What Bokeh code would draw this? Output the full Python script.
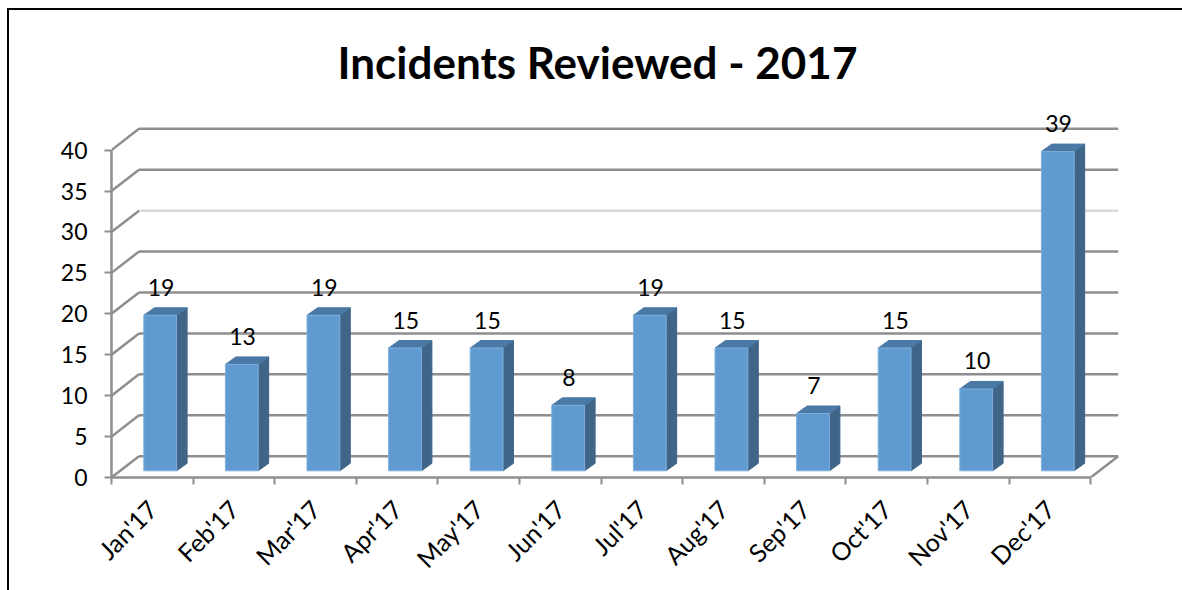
from bokeh.plotting import figure
from bokeh.embed import file_html
from bokeh.resources import INLINE
from bokeh.models import Range1d, FixedTicker, Title
from bokeh.core.properties import value

months = ["Jan'17", "Feb'17", "Mar'17", "Apr'17", "May'17", "Jun'17", "Jul'17", "Aug'17", "Sep'17", "Oct'17", "Nov'17", "Dec'17"]
incidents = [19, 13, 19, 15, 15, 8, 19, 15, 7, 15, 10, 39]
y_ticks = [0, 5, 10, 15, 20, 25, 30, 35, 40]
title_text = "Incidents Reviewed - 2017"

PX_X = 81.6     # pixels per month slot
PX_Y = 8.185    # pixels per unit
FRAME_W = 1024
FRAME_H = 372
WALL_DX = 27.5 / PX_X
WALL_DY = 21.3 / PX_Y
BAR_L = 32.3 / PX_X
BAR_W = 32.8 / PX_X
BAR_BASE = 6.7 / PX_Y
BAR_DX = 10.5 / PX_X
BAR_DY = 7.5 / PX_Y
LABEL_DY = 28 / PX_Y
GRID = "#8e8e8e"
GRID_LIGHT = "#dadada"
FONT = "Lato"

p = figure(width=1175, height=582, output_backend="svg", toolbar_location=None,
           x_range=Range1d(0, FRAME_W / PX_X), y_range=Range1d(0, FRAME_H / PX_Y),
           frame_width=FRAME_W, frame_height=FRAME_H,
           min_border_left=102, min_border_top=95, min_border_right=49, min_border_bottom=115,
           outline_line_color=None, background_fill_color="white", border_fill_color="white")
p.styles = {"border-top": "2px solid #000", "border-left": "2px solid #000",
            "box-sizing": "border-box", "margin-left": "7px", "margin-top": "8px"}
p.grid.visible = False

t = Title(text=title_text, align="left", offset=226, standoff=36, text_font=FONT,
          text_font_size="44px", text_font_style="bold", text_color="#000000")
p.add_layout(t, "above")

# back wall, side wall and floor lines
wall_x0, wall_y0, wall_x1, wall_y1, wall_c = [], [], [], [], []
for v in y_ticks:
    c = GRID_LIGHT if v == 30 else GRID
    wall_x0 += [WALL_DX, 0]
    wall_y0 += [v + WALL_DY, v]
    wall_x1 += [12 + WALL_DX, WALL_DX]
    wall_y1 += [v + WALL_DY, v + WALL_DY]
    wall_c += [c, GRID]
wall_x0 += [12]
wall_y0 += [0]
wall_x1 += [12 + WALL_DX]
wall_y1 += [WALL_DY]
wall_c += [GRID]
p.segment(wall_x0, wall_y0, wall_x1, wall_y1, line_color=wall_c, line_width=2.5)

# bars
left = [i + BAR_L for i in range(12)]
right = [l + BAR_W for l in left]
base = [BAR_BASE] * 12
top = [v + BAR_BASE for v in incidents]

side_xs = [[r, r + BAR_DX, r + BAR_DX, r] for r in right]
side_ys = [[BAR_BASE, BAR_BASE + BAR_DY, t_ + BAR_DY, t_] for t_ in top]
p.patches(side_xs, side_ys, fill_color="#3f6588", line_color="#3f6588", line_width=1)

top_xs = [[l, l + BAR_DX, r + BAR_DX, r] for l, r in zip(left, right)]
top_ys = [[t_, t_ + BAR_DY, t_ + BAR_DY, t_] for t_ in top]
p.patches(top_xs, top_ys, fill_color="#4a79a6", line_color="#4a79a6", line_width=1)

p.quad(left=left, right=right, bottom=base, top=top, fill_color="#5f9bd1",
       line_color="#7fb0dc", line_width=1)

# value labels
p.text([l + BAR_W / 2 + 0.01 for l in left], [t_ + LABEL_DY for t_ in top],
       text=[str(v) for v in incidents], text_align="center", text_baseline="middle",
       text_font=value(FONT), text_font_size="23px", text_color="#000000")

# axes
yax = p.yaxis[0]
yax.ticker = FixedTicker(ticks=y_ticks)
yax.bounds = (0, 40)
yax.axis_line_color = GRID
yax.axis_line_width = 2.5
yax.major_tick_line_color = GRID
yax.major_tick_line_width = 2
yax.major_tick_in = 0
yax.major_tick_out = 7
yax.minor_tick_line_color = None
yax.major_label_standoff = 17
yax.major_label_text_font = FONT
yax.major_label_text_font_size = "23px"
yax.major_label_text_color = "#000000"

xax = p.xaxis[0]
centers = [i + 0.5 for i in range(12)]
xax.ticker = FixedTicker(ticks=centers, minor_ticks=list(range(13)))
xax.major_label_overrides = {c: m for c, m in zip(centers, months)}
xax.bounds = (0, 12)
xax.axis_line_color = GRID
xax.axis_line_width = 2.5
xax.major_tick_line_color = None
xax.major_tick_in = 0
xax.major_tick_out = 0
xax.minor_tick_line_color = GRID
xax.minor_tick_line_width = 2
xax.minor_tick_in = 0
xax.minor_tick_out = 7
xax.major_label_orientation = 0.785
xax.major_label_standoff = 20
xax.major_label_text_font = FONT
xax.major_label_text_font_size = "25px"
xax.major_label_text_color = "#000000"

open("out.html", "w").write(file_html(p, INLINE))
